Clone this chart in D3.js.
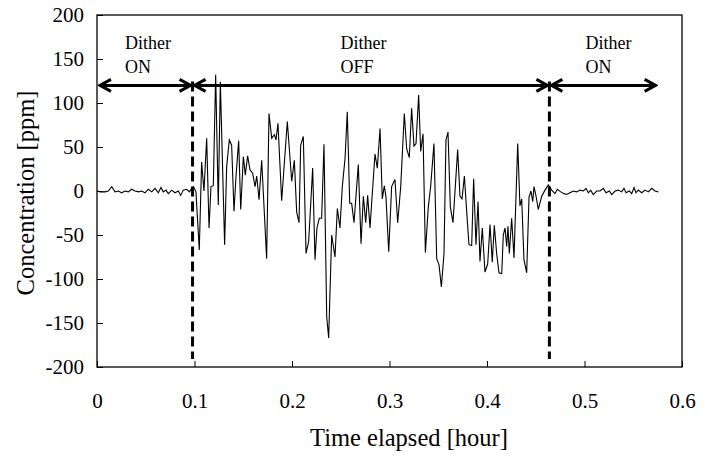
<!DOCTYPE html>
<meta charset="utf-8">
<script src="https://cdn.jsdelivr.net/npm/d3@7"></script>
<style>
body { margin: 0; background: #fff; }
text { font-family: "Liberation Serif", "Times New Roman", serif; fill: #000; }
.ttl { font-size: 24.5px; }
.lbl { font-size: 18px; }
</style>
<body>
<script>
// time [hour] and concentration [ppm]
var timeH = [0.001, 0.0031, 0.0082, 0.0116, 0.0151, 0.0185, 0.0219, 0.0253, 0.0287, 0.0321,
  0.0356, 0.0390, 0.0424, 0.0458, 0.0492, 0.0526, 0.0561, 0.0595, 0.0629, 0.0656,
  0.0680, 0.0708, 0.0731, 0.0766, 0.0800, 0.0834, 0.0858, 0.0885, 0.0920, 0.0947,
  0.0971, 0.0990, 0.1015,
  0.1049, 0.1073, 0.1097, 0.1125, 0.1149, 0.1169, 0.1193, 0.1217, 0.1244, 0.1265,
  0.1309, 0.1330, 0.1357, 0.1381, 0.1405, 0.1426, 0.1453, 0.1474, 0.1501, 0.1521,
  0.1545, 0.1569, 0.1597, 0.1621, 0.1638, 0.1662, 0.1689, 0.1740, 0.1764, 0.1792,
  0.1819, 0.1836, 0.1856, 0.1894, 0.1952, 0.1997, 0.2024, 0.2048, 0.2072, 0.2089,
  0.2116, 0.2144, 0.2171, 0.2212, 0.2236, 0.2256, 0.2280, 0.2304, 0.2328, 0.2356,
  0.2376, 0.2407, 0.2441, 0.2465, 0.2492, 0.2516, 0.2544, 0.2567, 0.2592, 0.2612,
  0.2636, 0.2680, 0.2708, 0.2732, 0.2756, 0.2776, 0.2800, 0.2851, 0.2875, 0.2903,
  0.2926, 0.2947, 0.2964, 0.2992, 0.3022, 0.3056, 0.3084, 0.3115, 0.3152, 0.3176,
  0.3203, 0.3227, 0.3251, 0.3272, 0.3299, 0.3320, 0.3344, 0.3368, 0.3398, 0.3422,
  0.3456, 0.3484, 0.3508, 0.3532, 0.3559, 0.3579, 0.3600, 0.3624, 0.3651, 0.3675,
  0.3699, 0.3723, 0.3744, 0.3768, 0.3791, 0.3815, 0.3843, 0.3863, 0.3887, 0.3908,
  0.3928, 0.3952, 0.3979, 0.4007, 0.4031, 0.4054, 0.4075, 0.4099, 0.4123, 0.4151,
  0.4167, 0.4185, 0.4202, 0.4215, 0.4229, 0.4253, 0.4277, 0.4315, 0.4338, 0.4356,
  0.4379, 0.4407, 0.4431, 0.4451, 0.4469, 0.4482, 0.4503, 0.4526, 0.4561, 0.4595,
  0.4629,
  0.4663, 0.4697, 0.4721, 0.4756, 0.4790, 0.4817, 0.4851, 0.4885, 0.4920, 0.4954,
  0.4988, 0.5015, 0.5039, 0.5063, 0.5090, 0.5125, 0.5159, 0.5193, 0.5221, 0.5255,
  0.5279, 0.5313, 0.5347, 0.5381, 0.5405, 0.5426, 0.5460, 0.5484, 0.5508, 0.5528,
  0.5551, 0.5587, 0.5621, 0.5655, 0.5689, 0.5723, 0.5757];

var concPpm = [0, -1, -1, 0, 5, -1, 0, -2, 0, -1,
  2, 0, -1, 0, -2, 2, -1, 3, -2, 4,
  -1, 1, -3, 1, -2, 0, -5, 1, 2, -1,
  3, 5, -1,
  -67, 33, 0, 60, -42, 5, 6, 132, -16, 124,
  -61, 28, 58, 52, -23, 17, 57, -21, 39, 18,
  40, 24, 20, 5, 17, -10, 35, -77, 88, 60,
  64, 58, 77, -11, 79, 11, 35, -24, -36, 52,
  62, -71, -57, 26, -78, -42, -31, -31, 53, -143,
  -167, -50, -75, -20, -42, 5, 37, 90, -14, -14,
  -36, 30, -60, -6, -36, -5, -42, 42, 26, 71,
  -9, 6, -7, -69, 5, 13, -36, 5, 88, 48,
  38, 94, 51, 54, 109, 45, 65, -70, -18, 5,
  54, -77, -84, -109, -71, 58, 67, -18, -36, 5,
  47, -6, -9, 17, -22, -61, -62, 14, -61, -12,
  -80, -42, -92, -83, -38, -81, -39, -71, -93, -94,
  -50, -42, -63, -40, -71, -31, -76, 54, -17, -9,
  -78, -93, -7, 0, -12, 5, -6, -21, -6, 1,
  7,
  1, -3, 2, -1, -3, -4, -2, 0, -1, 1,
  0, 3, -2, 1, -4, 0, 0, 3, -2, 0,
  -4, 0, 1, -1, 3, -2, 0, -3, 4, -2,
  1, -2, 1, -1, 3, 0, -1];

// dither switching times [hour] and labels
var switchH = [0.001, 0.098, 0.464, 0.575];
var regionLabels = [["Dither", "ON"], ["Dither", "OFF"], ["Dither", "ON"]];
var arrowLevel = 120;

var xTicks = [0, 0.1, 0.2, 0.3, 0.4, 0.5, 0.6];
var yTicks = [-200, -150, -100, -50, 0, 50, 100, 150, 200];

var width = 715, height = 457;
var margin = {left: 97, right: 33, top: 15, bottom: 90};
var serif = '"Liberation Serif", "Times New Roman", serif';

var svg = d3.select("body").append("svg")
    .attr("width", width)
    .attr("height", height);

var x = d3.scaleLinear().domain([0, 0.6]).range([margin.left, width - margin.right]);
var y = d3.scaleLinear().domain([-200, 200]).range([height - margin.bottom, margin.top]);

// axes, ticks pointing inward
svg.append("g")
    .attr("transform", "translate(0," + (height - margin.bottom) + ")")
    .call(d3.axisBottom(x).tickValues(xTicks).tickSize(-6).tickPadding(26)
      .tickFormat(d => d === 0 ? "0" : d3.format(".1f")(d)))
    .call(g => g.select(".domain").remove())
    .attr("font-family", serif).attr("font-size", 21);

svg.append("g")
    .attr("transform", "translate(" + margin.left + ",0)")
    .call(d3.axisLeft(y).tickValues(yTicks).tickSize(-6).tickPadding(13)
      .tickFormat(d => String(d)))
    .call(g => g.select(".domain").remove())
    .attr("font-family", serif).attr("font-size", 21);

svg.selectAll(".tick line").attr("stroke", "#000");

svg.append("rect")
    .attr("x", margin.left).attr("y", margin.top)
    .attr("width", width - margin.left - margin.right)
    .attr("height", height - margin.top - margin.bottom)
    .attr("fill", "none").attr("stroke", "#000").attr("stroke-width", 1.3);

// series
var line = d3.line().x((d, i) => x(timeH[i])).y(d => y(d));
svg.append("path")
    .datum(concPpm)
    .attr("d", line)
    .attr("fill", "none")
    .attr("stroke", "#000")
    .attr("stroke-width", 1.1);

// dashed switch lines
svg.selectAll(".switch")
    .data(switchH.slice(1, 3))
  .enter().append("line")
    .attr("x1", d => x(d)).attr("x2", d => x(d))
    .attr("y1", y(arrowLevel) - 4).attr("y2", y(-200) - 8)
    .attr("stroke", "#000").attr("stroke-width", 3)
    .attr("stroke-dasharray", "10,5");

// double arrows
var defs = svg.append("defs");
defs.append("marker")
    .attr("id", "ah")
    .attr("markerUnits", "userSpaceOnUse")
    .attr("viewBox", "-14 -8 16 16")
    .attr("refX", 0).attr("refY", 0)
    .attr("markerWidth", 16).attr("markerHeight", 16)
    .attr("orient", "auto-start-reverse")
  .append("path")
    .attr("d", "M-11,-6L0,0L-11,6")
    .attr("fill", "none").attr("stroke", "#000").attr("stroke-width", 3);

var segs = d3.range(regionLabels.length);
svg.selectAll(".arr")
    .data(segs)
  .enter().append("line")
    .attr("x1", i => x(switchH[i]) + 2)
    .attr("x2", i => x(switchH[i + 1]) - 2)
    .attr("y1", y(arrowLevel)).attr("y2", y(arrowLevel))
    .attr("stroke", "#000").attr("stroke-width", 3)
    .attr("marker-start", "url(#ah)")
    .attr("marker-end", "url(#ah)");

// region labels, left aligned a bit in from each region start
var labelInset = [27, 148, 36];
segs.forEach(function(i) {
  var lx = x(switchH[i]) + labelInset[i];
  var t = svg.append("text").attr("class", "lbl")
      .attr("x", lx).attr("y", 49);
  t.append("tspan").text(regionLabels[i][0]);
  t.append("tspan").attr("x", lx).attr("dy", 24).text(regionLabels[i][1]);
});

// axis titles
svg.append("text").attr("class", "ttl")
    .attr("text-anchor", "middle")
    .attr("x", 409)
    .attr("y", 446)
    .text("Time elapsed [hour]");

svg.append("text").attr("class", "ttl")
    .attr("text-anchor", "middle")
    .attr("transform", "translate(34,193) rotate(-90)")
    .text("Concentration [ppm]");
</script>
</body>
